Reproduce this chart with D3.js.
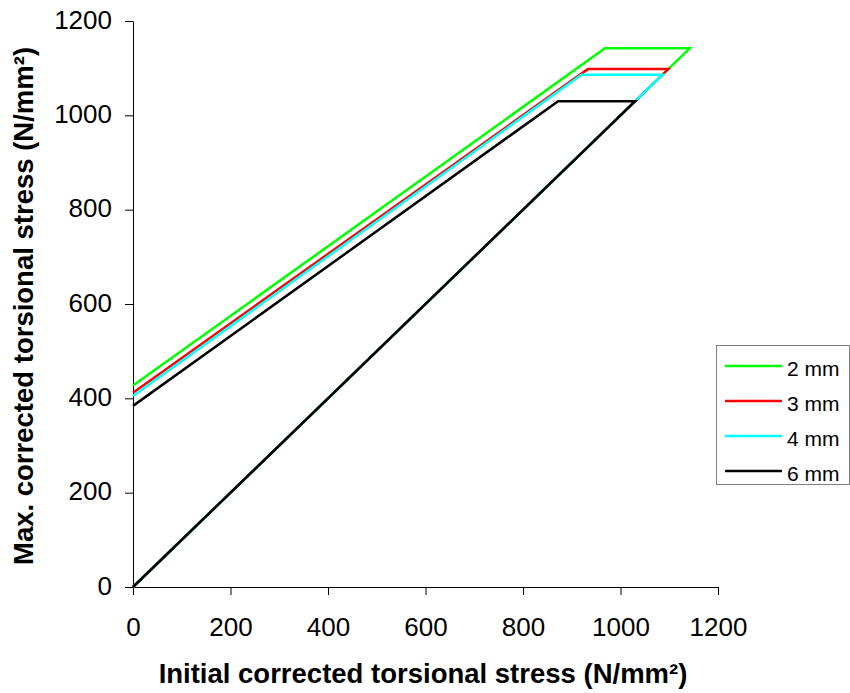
<!DOCTYPE html>
<html>
<head>
<meta charset="utf-8">
<script src="https://cdn.jsdelivr.net/npm/d3@7/dist/d3.min.js"></script>
<style>
  html, body { margin: 0; padding: 0; background: #fff; }
  svg { display: block; font-family: "Liberation Sans", Arial, sans-serif; }
</style>
</head>
<body>
<svg id="chart" width="850" height="693"></svg>
<script>
// Stress envelopes per wire diameter: start on the y-axis, rise to a knee,
// run flat to the limit, then return along the line y = x to the origin.
const seriesNames = ["2 mm", "3 mm", "4 mm", "6 mm"];
const seriesColors = ["#00ff00", "#ff0000", "#00ffff", "#000000"];
const initialStress = [
  [0, 968, 1142, 0],
  [0, 933, 1098, 0],
  [0, 920, 1086, 0],
  [0, 872, 1030, 0]
];
const maxStress = [
  [427, 1142, 1142, 0],
  [412, 1098, 1098, 0],
  [405, 1086, 1086, 0],
  [384, 1030, 1030, 0]
];
const xTicks = [0, 200, 400, 600, 800, 1000, 1200];
const yTicks = [0, 200, 400, 600, 800, 1000, 1200];

const svg = d3.select("#chart");
const plotLeft = 133, plotRight = 718, plotTop = 21, plotBottom = 587;
const fontFamily = "'Liberation Sans', Arial, sans-serif";

const x = d3.scaleLinear().domain([0, 1200]).range([plotLeft, plotRight]);
const y = d3.scaleLinear().domain([0, 1200]).range([plotBottom, plotTop]);

// Axes
const xAxis = d3.axisBottom(x).tickValues(xTicks).tickFormat(d3.format("d"))
  .tickSize(8).tickSizeOuter(0).tickPadding(23);
const yAxis = d3.axisLeft(y).tickValues(yTicks).tickFormat(d3.format("d"))
  .tickSize(8).tickSizeOuter(0).tickPadding(13);

const gx = svg.append("g").attr("transform", `translate(0,${plotBottom})`).call(xAxis);
const gy = svg.append("g").attr("transform", `translate(${plotLeft},0)`).call(yAxis);
[gx, gy].forEach(g => {
  g.attr("font-family", fontFamily).attr("font-size", 26);
  g.select(".domain").attr("stroke", "#000").attr("stroke-width", 1);
  g.selectAll(".tick line").attr("stroke", "#000").attr("stroke-width", 1);
  g.selectAll(".tick text").attr("fill", "#000");
});
gy.selectAll(".tick text").attr("dy", "0.27em");

// Series lines
const line = d3.line().x(d => x(d[0])).y(d => y(d[1]));
seriesNames.forEach((name, i) => {
  const pts = initialStress[i].map((v, j) => [v, maxStress[i][j]]);
  svg.append("path")
    .datum(pts)
    .attr("fill", "none")
    .attr("stroke", seriesColors[i])
    .attr("stroke-width", 2.5)
    .attr("stroke-linejoin", "miter")
    .attr("d", line);
});

// Axis titles
svg.append("text")
  .attr("x", 423)
  .attr("y", 683)
  .attr("text-anchor", "middle")
  .attr("font-family", fontFamily)
  .attr("font-size", 27.5)
  .attr("font-weight", "bold")
  .text("Initial corrected torsional stress (N/mm²)");

svg.append("text")
  .attr("transform", "translate(33,306) rotate(-90)")
  .attr("text-anchor", "middle")
  .attr("font-family", fontFamily)
  .attr("font-size", 27.5)
  .attr("font-weight", "bold")
  .text("Max. corrected torsional stress (N/mm²)");

// Legend
const lg = svg.append("g");
lg.append("rect")
  .attr("x", 716.5).attr("y", 345.5)
  .attr("width", 133).attr("height", 139)
  .attr("fill", "#fff").attr("stroke", "#808080").attr("stroke-width", 1);
seriesNames.forEach((name, i) => {
  const yy = 366 + i * 35;
  lg.append("line")
    .attr("x1", 725).attr("x2", 782)
    .attr("y1", yy).attr("y2", yy)
    .attr("stroke", seriesColors[i]).attr("stroke-width", 2.5);
  lg.append("text")
    .attr("x", 787).attr("y", yy + 10)
    .attr("font-family", fontFamily)
    .attr("font-size", 21)
    .text(name);
});
</script>
</body>
</html>
